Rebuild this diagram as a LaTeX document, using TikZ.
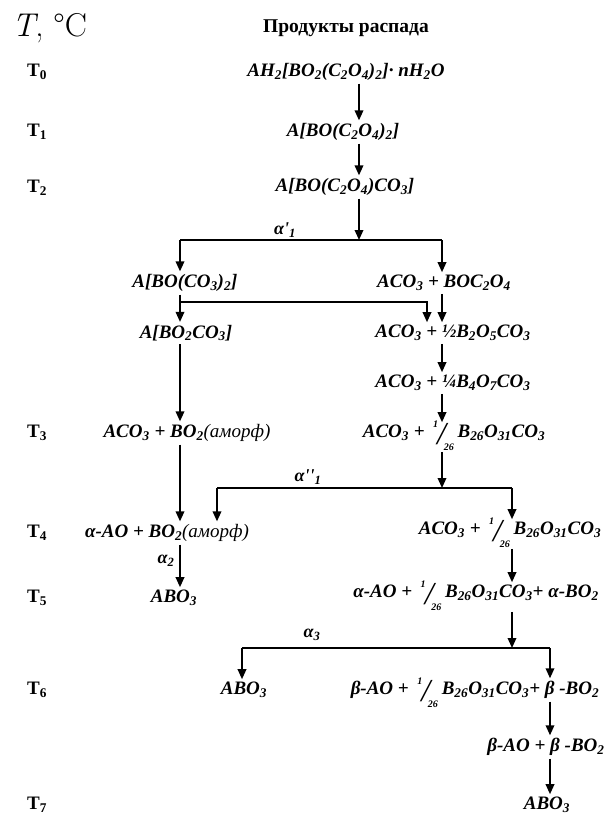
\documentclass[tikz,border=0pt]{standalone}
\usepackage{fontspec}
\newfontfamily\tnr{Liberation Serif}
\usetikzlibrary{arrows.meta}
\newcommand\lo[1]{\textsubscript{#1}}
\newcommand\amf{{\mdseries(аморф)}}
\newcommand\frk{\kern0.2em\smash{\raisebox{0.55em}{\fontsize{10}{10}\selectfont 1}\kern-0.05em\raisebox{-0.35em}{\fontsize{32}{32}\selectfont\mdseries /}\kern-0.12em\raisebox{-0.65em}{\fontsize{10}{10}\selectfont 26}}\kern0.2em}
\begin{document}
\begin{tikzpicture}[x=1pt,y=-1pt,
  fml/.style={font=\tnr\bfseries\itshape\fontsize{19}{22}\selectfont, inner sep=0pt, outer sep=3pt},
  tlab/.style={font=\tnr\bfseries\fontsize{19}{22}\selectfont, inner sep=0pt},
  alab/.style={font=\tnr\bfseries\itshape\fontsize{18}{20}\selectfont, inner sep=0pt},
  arr/.style={line width=1.8pt, -{Triangle[length=10pt,width=8.5pt]}},
  fromfrac/.style={shorten <=8pt},
  ln/.style={line width=1.8pt}]
\useasboundingbox (0,0) rectangle (609,816);
% headings
\node[anchor=west, font=\fontsize{33}{36}\selectfont, inner sep=0pt] (title) at (12,28) {\textit{T}, \textdegree C};
\node[font=\tnr\bfseries\fontsize{19.5}{22}\selectfont, inner sep=0pt] (head) at (346,28) {Продукты распада};
% temperature labels
\node[tlab] (t0) at (37,72) {T\lo{0}};
\node[tlab] (t1) at (37,132) {T\lo{1}};
\node[tlab] (t2) at (37,188) {T\lo{2}};
\node[tlab] (t3) at (37,433) {T\lo{3}};
\node[tlab] (t4) at (37,533) {T\lo{4}};
\node[tlab] (t5) at (37,598) {T\lo{5}};
\node[tlab] (t6) at (37,690) {T\lo{6}};
\node[tlab] (t7) at (37,805) {T\lo{7}};
% formulas
\node[fml] (f1) at (346,72) {AH\lo{2}[BO\lo{2}(C\lo{2}O\lo{4})\lo{2}]· nH\lo{2}O};
\node[fml] (f2) at (343,132) {A[BO(C\lo{2}O\lo{4})\lo{2}]};
\node[fml] (f3) at (345,187) {A[BO(C\lo{2}O\lo{4})CO\lo{3}]};
\node[fml] (f4) at (185,283) {A[BO(CO\lo{3})\lo{2}]};
\node[fml] (f5) at (444,283) {ACO\lo{3} + BOC\lo{2}O\lo{4}};
\node[fml] (f6) at (186,333) {A[BO\lo{2}CO\lo{3}]};
\node[fml] (f7) at (453,333) {ACO\lo{3} + ½B\lo{2}O\lo{5}CO\lo{3}};
\node[fml] (f8) at (453,383) {ACO\lo{3} + ¼B\lo{4}O\lo{7}CO\lo{3}};
\node[fml] (f9) at (187,433) {ACO\lo{3} + BO\lo{2}\amf};
\node[fml] (f10) at (454,433) {ACO\lo{3} + \frk B\lo{26}O\lo{31}CO\lo{3}};
\node[fml] (f11) at (167,533) {α-AO + BO\lo{2}\amf};
\node[fml] (f12) at (510,530) {ACO\lo{3} + \frk B\lo{26}O\lo{31}CO\lo{3}};
\node[fml] (f13) at (174,598) {ABO\lo{3}};
\node[fml] (f14) at (476,593) {α-AO + \frk B\lo{26}O\lo{31}CO\lo{3}+ α-BO\lo{2}};
\node[fml] (f15) at (244,690) {ABO\lo{3}};
\node[fml] (f16) at (475,690) {β-AO + \frk B\lo{26}O\lo{31}CO\lo{3}+ β -BO\lo{2}};
\node[fml] (f17) at (546,747) {β-AO + β -BO\lo{2}};
\node[fml] (f18) at (547,805) {ABO\lo{3}};
% branch labels
\node[alab] (a1) at (285,230) {α'\lo{1}};
\node[alab] (a2) at (308,477) {α''\lo{1}};
\node[alab] (a3) at (166,561) {α\lo{2}};
\node[alab] (a4) at (312,635) {α\lo{3}};
% coordinates
\coordinate (cM) at (359,0);
\coordinate (J1) at (359,240);
\coordinate (J1L) at (180,240);
\coordinate (J1R) at (442,240);
\coordinate (K1) at (180,302);
\coordinate (K2) at (427,302);
\coordinate (J2) at (442,488);
\coordinate (J2L) at (217,488);
\coordinate (J2R) at (512,488);
\coordinate (J3) at (512,648);
\coordinate (J3L) at (242,648);
\coordinate (J3R) at (550,648);
% connectors
\draw[arr] (f1.south -| cM) -- (f2.north -| cM);
\draw[arr] (f2.south -| cM) -- (f3.north -| cM);
\draw[arr] (f3.south -| J1) -- (J1);
\draw[ln] (J1L) -- (J1R);
\draw[arr] (J1L) -- (f4.north -| J1L);
\draw[arr] (J1R) -- (f5.north -| J1R);
\draw[arr] (f4.south -| K1) -- (f6.north -| K1);
\draw[arr] (K1) -- (K2) -- (f7.north -| K2);
\draw[arr] (f5.south -| J1R) -- (f7.north -| J1R);
\draw[arr] (f7.south -| J1R) -- (f8.north -| J1R);
\draw[arr] (f8.south -| J1R) -- (f10.north -| J1R);
\draw[arr] (f6.south -| K1) -- (f9.north -| K1);
\draw[arr] (f9.south -| K1) -- (f11.north -| K1);
\draw[arr, fromfrac] (f10.south -| J2) -- (J2);
\draw[ln] (J2L) -- (J2R);
\draw[arr] (J2L) -- (f11.north -| J2L);
\draw[arr] (J2R) -- (f12.north -| J2R);
\draw[arr] (f11.south -| K1) -- (f13.north -| K1);
\draw[arr, fromfrac] (f12.south -| J2R) -- (f14.north -| J2R);
\draw[arr, fromfrac] (f14.south -| J3) -- (J3);
\draw[ln] (J3L) -- (J3R);
\draw[arr] (J3L) -- (f15.north -| J3L);
\draw[arr] (J3R) -- (f16.north -| J3R);
\draw[arr] (f16.south -| J3R) -- (f17.north -| J3R);
\draw[arr] (f17.south -| J3R) -- (f18.north -| J3R);
\end{tikzpicture}
\end{document}
